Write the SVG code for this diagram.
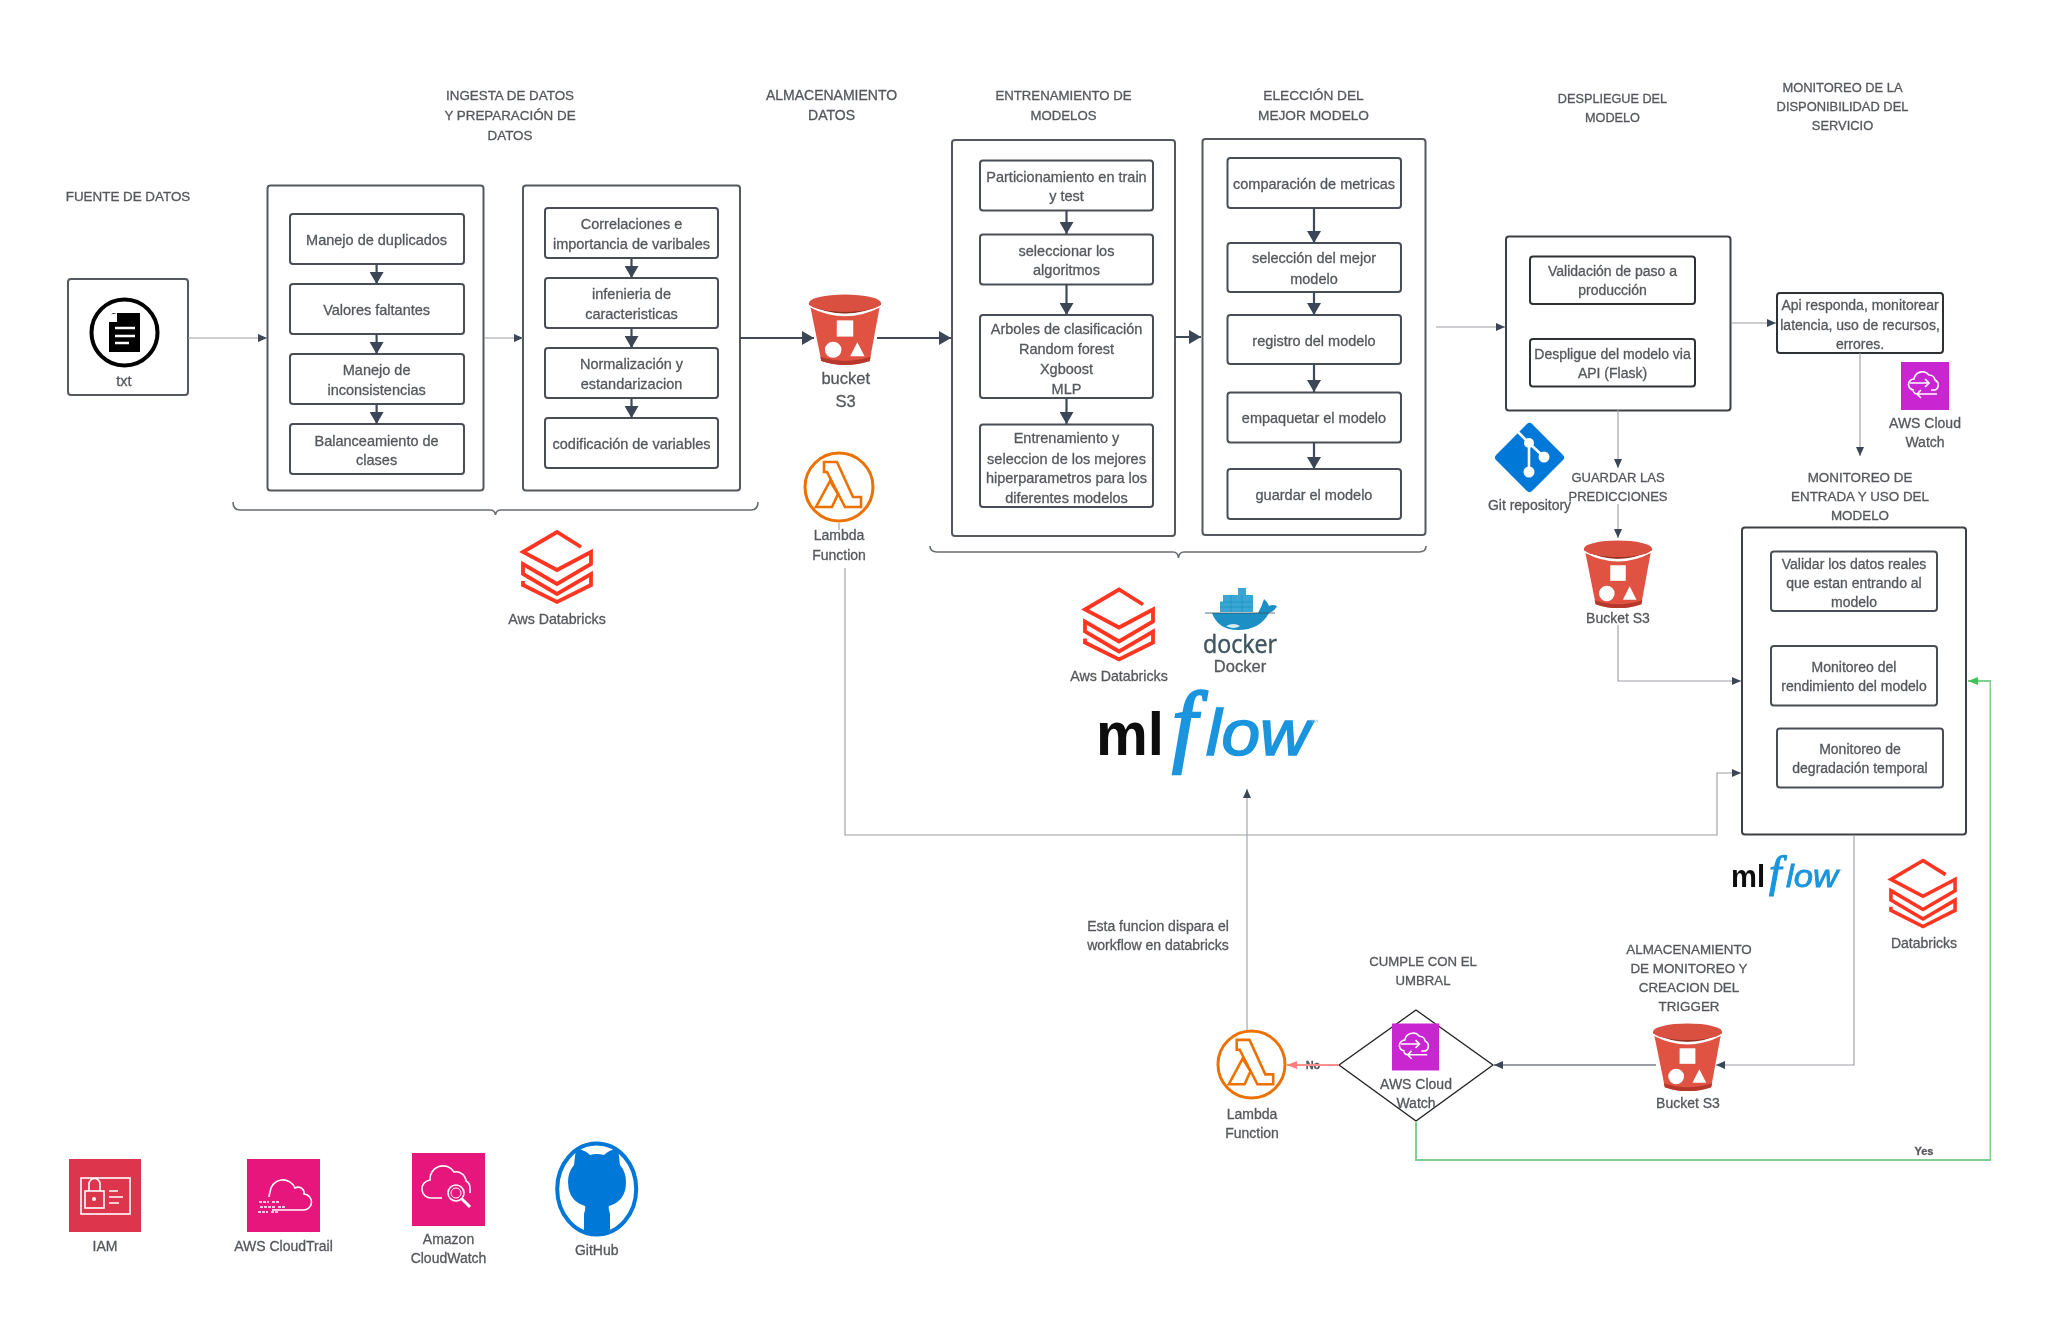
<svg xmlns="http://www.w3.org/2000/svg" width="2049" height="1317" viewBox="0 0 2049 1317">
<style>
text{font-family:"Liberation Sans",Arial,sans-serif;font-size:14.5px;fill:#55585c;stroke:#55585c;stroke-width:.3;text-anchor:middle;dominant-baseline:central}
.h{font-size:13.4px}
.d{font-size:14.2px}
.s{font-size:14px}
.big{font-size:16.5px}
.box{fill:#fff;stroke:#55595e;stroke-width:2}
.in{fill:#fff;stroke:#4a4e54;stroke-width:2}
.m{fill:none;stroke:#3f4a58;stroke-width:2;marker-end:url(#hv)}
.a{fill:none;stroke:#3f4a58;stroke-width:2.2;marker-end:url(#hv)}
.t{fill:none;stroke:#9a9ea3;stroke-width:1.1;marker-end:url(#th)}
.br{fill:none;stroke:#6a6e73;stroke-width:1.6}
.wl{fill:none;stroke:#fff;stroke-width:2}
.ws{fill:none;stroke:#fff;stroke-width:1.6}
symbol{overflow:visible}
</style>
<defs>
<filter id="soft" x="0" y="0" width="1" height="1"><feGaussianBlur stdDeviation="0.35"/></filter>
<marker id="hv" markerUnits="userSpaceOnUse" markerWidth="12" markerHeight="14" refX="12" refY="7" orient="auto"><path d="M0 0L12 7L0 14Z" fill="#3a4656"/></marker>
<marker id="th" markerUnits="userSpaceOnUse" markerWidth="9" markerHeight="8" refX="9" refY="4" orient="auto"><path d="M0 0L9 4L0 8Z" fill="#3a4656"/></marker>
<marker id="gr" markerUnits="userSpaceOnUse" markerWidth="10" markerHeight="8" refX="10" refY="4" orient="auto"><path d="M0 0L10 4L0 8Z" fill="#3fc45a"/></marker>
<marker id="rd" markerUnits="userSpaceOnUse" markerWidth="10" markerHeight="8" refX="10" refY="4" orient="auto"><path d="M0 0L10 4L0 8Z" fill="#ff7b7b"/></marker>
<symbol id="bucket" viewBox="0 0 70 72" preserveAspectRatio="none">
<path d="M1 11L12 66Q35 74 59 66L69 11Z" fill="#e05243"/>
<path d="M11 62Q35 70 60 62L59 66Q35 74 12 66Z" fill="#b5382c"/>
<path d="M0 10Q35 28 70 10L69.300 13Q35 31 .7 13Z" fill="#fff"/>
<path d="M0 9Q35 26 70 9V10.500Q35 28 0 10.500Z" fill="#8c3123"/>
<ellipse cx="35" cy="9" rx="35" ry="8.500" fill="#d94f40"/>
<rect x="27" y="26" width="16" height="16" fill="#fff"/>
<circle cx="23.500" cy="55" r="8" fill="#fff"/>
<path d="M47 47.500L54 61.500H40Z" fill="#fff"/>
</symbol>
<symbol id="lambda" viewBox="0 0 72 72">
<circle cx="36" cy="36" r="34" fill="#fff" stroke="#ed7100" stroke-width="3"/>
<path d="M21 11H34L50 46H58V56H42L24 21H21Z" fill="none" stroke="#ed7100" stroke-width="2.600"/>
<path d="M27 30L13 56H29L35 43Z" fill="none" stroke="#ed7100" stroke-width="2.600"/>
</symbol>
<symbol id="dbx" viewBox="0 0 70 72">
<path d="M59 16L35 1L1 21L35 39L69 21V33L35 53L1 33V43L35 63L69 43V54L35 71L1 54V50" fill="none" stroke="#ff3621" stroke-width="3.800"/>
</symbol>
<symbol id="cw" viewBox="0 0 48 48">
<rect width="48" height="48" fill="#c925d1"/>
<path d="M13 28a5.500 5.500 0 0 1 0-11a8.500 8.500 0 0 1 15-4a6 6 0 0 1 6 5a5.500 5.500 0 0 1 0 10h-4" class="ws"/>
<path d="M9 21h19m-4-4l4 4l-4 4M36 32H16m4-4l-4 4l4 4M16 32a5 5 0 0 1-4-3" class="ws"/>
</symbol>
<symbol id="mlf" viewBox="0 0 222 81">
<text x="0" y="62" textLength="68" lengthAdjust="spacingAndGlyphs" style="font-size:62px;font-weight:bold;fill:#0b0b0b;stroke:none;text-anchor:start;dominant-baseline:auto">ml</text>
<text x="76" y="62" style="font-family:'Liberation Serif',serif;font-size:90px;font-style:italic;fill:#1a95de;stroke:#1a95de;stroke-width:2.400;text-anchor:start;dominant-baseline:auto">f</text>
<text x="110" y="62" textLength="104" lengthAdjust="spacingAndGlyphs" style="font-size:64px;font-style:italic;fill:#1a95de;stroke:#1a95de;stroke-width:1.600;text-anchor:start;dominant-baseline:auto">low</text>
<text x="214" y="32" style="font-size:8px;fill:#9fc9e6;stroke:none;text-anchor:start;dominant-baseline:auto">™</text>
</symbol>
</defs>
<rect width="2049" height="1317" fill="#fff"/>
<g filter="url(#soft)">

<g id="fuente"><text class="h" x="128" y="196">FUENTE DE DATOS</text></g>
<g id="txt">
<rect class="box" x="68" y="279" width="120" height="116" rx="3"/>
<circle cx="124.500" cy="332.500" r="33" fill="#fff" stroke="#000" stroke-width="4"/>
<path d="M113 313H140V352H109V317Z" fill="#000"/>
<path d="M109 315V322H117V313Z" fill="#fff"/>
<path d="M115 328H135M115 336H135M115 343H129" stroke="#fff" stroke-width="2.600"/>
<text x="124" y="381">txt</text>
</g>

<g id="ingesta">
<text class="h"><tspan x="510" y="95">INGESTA DE DATOS</tspan><tspan x="510" y="115">Y PREPARACIÓN DE</tspan><tspan x="510" y="135">DATOS</tspan></text>
</g>
<g id="grupo-limpieza">
<rect class="box" x="267.500" y="185.500" width="216" height="305" rx="3"/>
<g><rect class="in" x="290" y="214" width="174" height="50" rx="3"/><text x="376.600" y="240">Manejo de duplicados</text></g>
<g><rect class="in" x="290" y="284" width="174" height="50" rx="3"/><text x="376.600" y="310">Valores faltantes</text></g>
<g><rect class="in" x="290" y="354" width="174" height="50" rx="3"/><text x="376.600" y="370">Manejo de</text><text x="376.600" y="390">inconsistencias</text></g>
<g><rect class="in" x="290" y="424" width="174" height="50" rx="3"/><text x="376.600" y="440.500">Balanceamiento de</text><text x="376.600" y="460">clases</text></g>
</g>
<g id="grupo-features">
<rect class="box" x="523" y="185.500" width="217" height="305" rx="3"/>
<g><rect class="in" x="545" y="208" width="173" height="50" rx="3"/><text x="631.500" y="224">Correlaciones e</text><text x="631.500" y="244">importancia de varibales</text></g>
<g><rect class="in" x="545" y="278" width="173" height="50" rx="3"/><text x="631.500" y="294">infenieria de</text><text x="631.500" y="314">caracteristicas</text></g>
<g><rect class="in" x="545" y="348" width="173" height="50" rx="3"/><text x="631.500" y="364">Normalización y</text><text x="631.500" y="384">estandarizacion</text></g>
<g><rect class="in" x="545" y="418" width="173" height="50" rx="3"/><text x="631.500" y="443.500">codificación de variables</text></g>
</g>
<g id="databricks-1"><use href="#dbx" x="522" y="531" width="70" height="72"/><text class="d" x="557" y="619">Aws Databricks</text></g>

<g id="almacenamiento"><text style="font-size:14px"><tspan x="831.500" y="95">ALMACENAMIENTO</tspan><tspan x="831.500" y="115">DATOS</tspan></text></g>
<g id="bucket-s3"><use href="#bucket" x="809" y="294" width="72" height="73"/><text class="big" x="845.700" y="378">bucket</text><text class="big" x="845.700" y="401">S3</text></g>
<g id="lambda-1"><use href="#lambda" x="803" y="451" width="72" height="72"/><text class="s" x="839" y="535">Lambda</text><text class="s" x="839" y="554.500">Function</text></g>

<g id="entrenamiento-h"><text style="font-size:13.200px"><tspan x="1063.500" y="95">ENTRENAMIENTO DE</tspan><tspan x="1063.500" y="115">MODELOS</tspan></text></g>
<g id="grupo-entrenamiento">
<rect class="box" x="952" y="140" width="223" height="396" rx="3"/>
<g><rect class="in" x="980" y="160.500" width="173" height="50" rx="3"/><text x="1066.500" y="176.500">Particionamiento en train</text><text x="1066.500" y="196">y test</text></g>
<g><rect class="in" x="980" y="234.500" width="173" height="50" rx="3"/><text x="1066.500" y="250.500">seleccionar los</text><text x="1066.500" y="270">algoritmos</text></g>
<g><rect class="in" x="980" y="315" width="173" height="83" rx="3"/><text x="1066.500" y="329">Arboles de clasificación</text><text x="1066.500" y="349">Random forest</text><text x="1066.500" y="369">Xgboost</text><text x="1066.500" y="389">MLP</text></g>
<g><rect class="in" x="980" y="424.500" width="173" height="82.500" rx="3"/><text x="1066.500" y="438">Entrenamiento y</text><text x="1066.500" y="458.500">seleccion de los mejores</text><text x="1066.500" y="478">hiperparametros para los</text><text x="1066.500" y="498">diferentes modelos</text></g>
</g>
<g id="eleccion-h"><text style="font-size:13.700px"><tspan x="1313.500" y="95">ELECCIÓN DEL</tspan><tspan x="1313.500" y="115">MEJOR MODELO</tspan></text></g>
<g id="grupo-eleccion">
<rect class="box" x="1202.500" y="139" width="223" height="396" rx="3"/>
<g><rect class="in" x="1227.500" y="158" width="173.500" height="50" rx="3"/><text x="1314" y="183.500">comparación de metricas</text></g>
<g><rect class="in" x="1227.500" y="243" width="173.500" height="49" rx="3"/><text x="1314" y="258">selección del mejor</text><text x="1314" y="278.500">modelo</text></g>
<g><rect class="in" x="1227.500" y="315" width="173.500" height="49" rx="3"/><text x="1314" y="340.500">registro del modelo</text></g>
<g><rect class="in" x="1227.500" y="392.500" width="173.500" height="50" rx="3"/><text x="1314" y="418">empaquetar el modelo</text></g>
<g><rect class="in" x="1227.500" y="469" width="173.500" height="50" rx="3"/><text x="1314" y="495">guardar el modelo</text></g>
</g>
<g id="databricks-2"><use href="#dbx" x="1084" y="588" width="70" height="73"/><text class="d" x="1119" y="676">Aws Databricks</text></g>
<g id="docker">
<path d="M1212 613H1258Q1262 606 1264 599Q1268 602 1269 606Q1273 604 1277 606Q1275 611 1269 613Q1260 630 1238 630Q1218 630 1212 613Z" fill="#1b90c4"/>
<path d="M1220 602h33v10h-33zM1223 595h30v7h-30zM1238 588h8v7h-8z" fill="#3aa6d4"/>
<path d="M1220 607h33M1220 602h33M1231 595v17M1242 595v17" stroke="#1b90c4" stroke-width=".7"/>
<path d="M1205 613H1275" stroke="#39515f" stroke-width=".8"/>
<path d="M1226 626q8-4 14 0q-6 4-14 0z" fill="#d7ecf5"/>
<text x="1240" y="642.500" textLength="74" lengthAdjust="spacingAndGlyphs" style="font-size:26px;fill:#3f5560;stroke:#3f5560;stroke-width:.5;font-family:'Open Sans',sans-serif">docker</text>
<text class="big" x="1240" y="666">Docker</text>
</g>
<g id="mlflow-1"><use href="#mlf" x="1096" y="693" width="222" height="81"/></g>

<g id="despliegue-h"><text style="font-size:12.700px"><tspan x="1612.500" y="99">DESPLIEGUE DEL</tspan><tspan x="1612.500" y="118">MODELO</tspan></text></g>
<g id="grupo-despliegue">
<rect class="box" x="1506" y="236.500" width="224.500" height="174" rx="3" style="stroke:#3c4045"/>
<g><rect class="in" x="1530" y="256.500" width="165" height="47.500" rx="3" style="stroke:#2f3236"/><text class="s" x="1612.500" y="271">Validación de paso a</text><text class="s" x="1612.500" y="290">producción</text></g>
<g><rect class="in" x="1530" y="339" width="165" height="47.500" rx="3" style="stroke:#2f3236"/><text class="s" x="1612.500" y="353.500">Despligue del modelo via</text><text class="s" x="1612.500" y="373">API (Flask)</text></g>
</g>
<g id="disponibilidad-h"><text style="font-size:12.900px"><tspan x="1842.500" y="87">MONITOREO DE LA</tspan><tspan x="1842.500" y="106">DISPONIBILIDAD DEL</tspan><tspan x="1842.500" y="125">SERVICIO</tspan></text></g>
<g id="api"><rect class="in" x="1777" y="293" width="166" height="60" rx="3" style="stroke:#2f3236"/><text class="s" x="1860" y="305">Api responda, monitorear</text><text class="s" x="1860" y="325">latencia, uso de recursos,</text><text class="s" x="1860" y="344">errores.</text></g>
<g id="cloudwatch-1"><use href="#cw" x="1901" y="362" width="48" height="48"/><text class="s" x="1925" y="423">AWS Cloud</text><text class="s" x="1925" y="442">Watch</text></g>
<g id="git">
<rect x="1504" y="432" width="51" height="51" rx="4" fill="#0078d7" transform="rotate(45 1529.500 457.500)"/>
<path d="M1518 432L1529 443V472M1529 443L1544 457" class="wl" style="stroke-width:2.600"/>
<circle cx="1529" cy="443" r="5" fill="#fff"/><circle cx="1529" cy="472" r="5.500" fill="#fff"/><circle cx="1544" cy="457" r="5.500" fill="#fff"/>
<text class="s" x="1529.500" y="505">Git repository</text>
</g>
<g id="guardar"><text style="font-size:13px"><tspan x="1618" y="477">GUARDAR LAS</tspan><tspan x="1618" y="496">PREDICCIONES</tspan></text></g>
<g id="bucket-2"><use href="#bucket" x="1584" y="540" width="68" height="70"/><text class="s" x="1618" y="618">Bucket S3</text></g>
<g id="monitoreo-h"><text class="h"><tspan x="1860" y="477">MONITOREO DE</tspan><tspan x="1860" y="496">ENTRADA Y USO DEL</tspan><tspan x="1860" y="514.500">MODELO</tspan></text></g>
<g id="grupo-monitoreo">
<rect class="box" x="1742" y="527.500" width="224" height="307" rx="3" style="stroke:#3c4045"/>
<g><rect class="in" x="1771" y="551.500" width="166" height="59.500" rx="3"/><text class="s" x="1854" y="564">Validar los datos reales</text><text class="s" x="1854" y="583">que estan entrando al</text><text class="s" x="1854" y="602">modelo</text></g>
<g><rect class="in" x="1771" y="646" width="166" height="59.500" rx="3"/><text class="s" x="1854" y="667">Monitoreo del</text><text class="s" x="1854" y="686">rendimiento del modelo</text></g>
<g><rect class="in" x="1777" y="728.500" width="166" height="59" rx="3"/><text class="s" x="1860" y="749">Monitoreo de</text><text class="s" x="1860" y="768">degradación temporal</text></g>
</g>
<g id="mlflow-2"><use href="#mlf" x="1731" y="856" width="111" height="41"/></g>
<g id="databricks-3"><use href="#dbx" x="1890" y="858" width="66" height="71"/><text class="s" x="1924" y="943">Databricks</text></g>
<g id="almacen-h"><text class="h"><tspan x="1689" y="949">ALMACENAMIENTO</tspan><tspan x="1689" y="968">DE MONITOREO Y</tspan><tspan x="1689" y="987">CREACION DEL</tspan><tspan x="1689" y="1006">TRIGGER</tspan></text></g>
<g id="bucket-3"><use href="#bucket" x="1653" y="1023" width="69" height="70"/><text class="s" x="1688" y="1103">Bucket S3</text></g>
<g id="umbral-h"><text style="font-size:13.200px"><tspan x="1423" y="961">CUMPLE CON EL</tspan><tspan x="1423" y="980">UMBRAL</tspan></text></g>
<g id="decision">
<path d="M1416 1010L1493 1065L1416 1121L1339 1065Z" fill="#fff" stroke="#222" stroke-width="1.400" stroke-linejoin="round"/>
<use href="#cw" x="1392" y="1023" width="47" height="48"/>
<text class="s" x="1416" y="1084">AWS Cloud</text><text class="s" x="1416" y="1103">Watch</text>
</g>
<g id="lambda-2"><use href="#lambda" x="1216" y="1029" width="71" height="71"/><text class="s" x="1252" y="1114">Lambda</text><text class="s" x="1252" y="1133">Function</text></g>
<g id="labels"><text class="s" x="1158" y="926">Esta funcion dispara el</text><text class="s" x="1158" y="945">workflow en databricks</text>
<text x="1313" y="1065" style="font-size:11px;font-weight:bold">No</text><text x="1924" y="1151" style="font-size:11px;font-weight:bold">Yes</text></g>

<g id="iam"><rect x="69" y="1159" width="72" height="73" fill="#dd344c"/>
<rect x="81" y="1178" width="49" height="36" class="ws"/><rect x="85" y="1191" width="19" height="17" class="ws"/><path d="M89 1191v-7a5.500 5.500 0 0 1 11 0v7M109 1191h9M109 1197h14M109 1203h10" class="ws"/><circle cx="94" cy="1199" r="2" fill="#fff"/>
<text class="s" x="105" y="1246">IAM</text></g>
<g id="cloudtrail"><rect x="247" y="1159" width="73" height="73" fill="#e7157b"/>
<path d="M272 1210h31a8 8 0 0 0 1-16a6 6 0 0 0-9-6a13 13 0 0 0-25 4q-1 4-1 5" class="ws"/><path d="M259 1202h10m3 0h7M260 1207h15m3 0h8M258 1212h10m3 0h7" class="ws" style="stroke-dasharray:3 1"/>
<text class="s" x="283.500" y="1246">AWS CloudTrail</text></g>
<g id="cloudwatch"><rect x="412" y="1153" width="73" height="73" fill="#e7157b"/>
<path d="M442 1198h-10a9 9 0 0 1-2-18a13 13 0 0 1 24-8a10 10 0 0 1 12 9q4 2 4 7v5" class="ws"/><circle cx="456" cy="1193" r="8" class="ws"/><circle cx="456" cy="1193" r="5" class="ws" style="stroke-width:1"/><path d="M462 1199l8 8" class="wl" style="stroke-width:3"/>
<text class="s" x="448.500" y="1239">Amazon</text><text class="s" x="448.500" y="1258">CloudWatch</text></g>
<g id="github"><ellipse cx="596.700" cy="1189" rx="39.500" ry="45.500" fill="#fff" stroke="#0078d7" stroke-width="4"/>
<path d="M574 1165L576 1148Q585 1150 590 1155Q597 1153 604 1155Q609 1150 618 1148L620 1165Q626 1172 626 1182Q626 1201 609 1206Q608 1208 610 1214V1233Q597 1236 584 1233V1214Q586 1208 585 1206Q568 1201 568 1182Q568 1172 574 1165Z" fill="#0078d7"/>
<text class="s" x="596.700" y="1250">GitHub</text></g>

<g id="connectors">
<path class="t" d="M188 338H267"/>
<path class="t" d="M484 338H523"/>
<path class="m" d="M740 338H814"/>
<path class="m" d="M877 338H951"/>
<path class="m" d="M1175 337H1201"/>
<path class="t" d="M1436 327H1505"/>
<path class="t" d="M1731 323H1776"/>
<path class="t" d="M1618 410V468"/>
<path class="t" d="M1618 504V538"/>
<path class="t" d="M1860 353V456"/>
<path class="t" d="M1618 625V681H1741"/>
<path class="t" d="M845 568V835H1717V773H1741"/>
<path class="t" d="M1247 1030V789"/>
<path class="t" d="M1854 835V1065H1716"/>
<path class="t" d="M1656 1065H1494" style="stroke-width:2"/>
<path d="M1339 1065H1287" fill="none" stroke="#ff8f8f" stroke-width="2" marker-end="url(#rd)"/>
<path d="M1416 1121V1160H1990.500V681H1968" fill="none" stroke="#7fd08f" stroke-width="2" marker-end="url(#gr)"/>
<path d="M839 523V530" fill="none" stroke="#9a9ea3" stroke-width="1.100"/>
<path class="a" d="M376.600 264V284"/><path class="a" d="M376.600 334V354"/><path class="a" d="M376.600 404V424"/>
<path class="a" d="M631.500 258V278"/><path class="a" d="M631.500 328V348"/><path class="a" d="M631.500 398V418"/>
<path class="a" d="M1066.500 210V234"/><path class="a" d="M1066.500 284V315"/><path class="a" d="M1066.500 398V424"/>
<path class="a" d="M1314 208V243"/><path class="a" d="M1314 292V315"/><path class="a" d="M1314 364V392"/><path class="a" d="M1314 442V469"/>
<path class="br" d="M233 502Q233 510 240 510H490Q495 510 495.500 515Q496 510 501 510H751Q758 510 758 502"/>
<path class="br" d="M930 546Q930 552 937 552H1173Q1178 552 1178.500 558Q1179 552 1184 552H1419Q1426 552 1426 546"/>
</g>
</g>
</svg>
